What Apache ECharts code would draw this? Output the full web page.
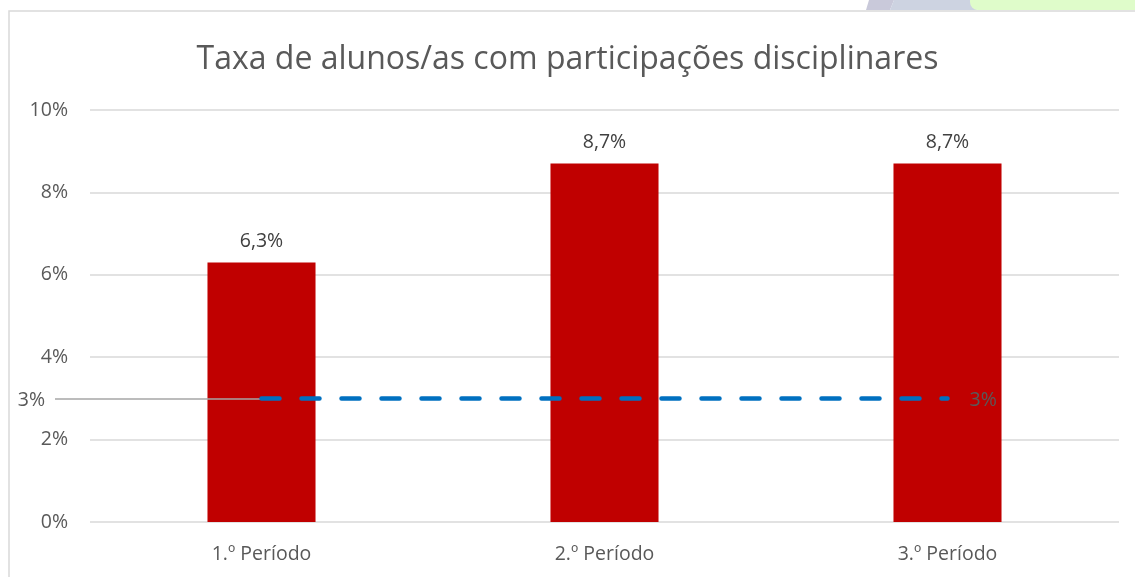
<!DOCTYPE html>
<html><head><meta charset="utf-8">
<script src="https://cdn.jsdelivr.net/npm/echarts@6/dist/echarts.min.js"></script>
<style>html,body{margin:0;padding:0;background:#fff}#c{width:1135px;height:577px}</style>
</head><body><div id="c"></div>
<script>
var titleText = 'Taxa de alunos/as com participações disciplinares';
var categories = ['1.º Período', '2.º Período', '3.º Período'];
var rateValues = [6.3, 8.7, 8.7];
var targetValues = [3, 3, 3];
var yTicks = [0, 2, 4, 6, 8, 10];

var chart = echarts.init(document.getElementById('c'), null, {renderer: 'canvas'});
var FONT = 'Open Sans';
var FS = 19.5;
function pct(v){ return String(v).replace('.', ',') + '%'; }

chart.setOption({
  animation: false,
  backgroundColor: '#fff',
  textStyle: {fontFamily: FONT},
  title: {
    text: titleText, left: 'center', top: 39,
    textStyle: {fontFamily: FONT, fontSize: 32, fontWeight: 'normal', color: '#595959'}
  },
  graphic: [
    {type: 'rect', shape: {x: 9, y: 11, width: 1140, height: 580}, style: {fill: 'none', stroke: '#D9D9D9', lineWidth: 1.5}, z: -10},
    {type: 'polygon', shape: {points: [[869,0],[894,0],[890,10],[866,10]]}, style: {fill: '#C9C9DA'}, z: -10},
    {type: 'polygon', shape: {points: [[894,0],[970,0],[977,10],[890,10]]}, style: {fill: '#CDD3E1'}, z: -10},
    {type: 'rect', shape: {x: 970, y: 0, width: 170, height: 10, r: [0,0,0,8]}, style: {fill: '#DFFCCA'}, z: -10}
  ],
  grid: {left: 90, right: 16, top: 110, bottom: 55, containLabel: false},
  xAxis: {
    type: 'category', data: categories,
    axisLine: {show: false}, axisTick: {show: false},
    axisLabel: {color: '#595959', fontSize: FS, fontFamily: FONT, margin: 22}
  },
  yAxis: {
    type: 'value', min: 0, max: 10, interval: 2,
    axisLine: {show: false}, axisTick: {show: false},
    splitLine: {lineStyle: {color: '#D9D9D9', width: 1.5}},
    axisLabel: {color: '#595959', fontSize: FS, fontFamily: FONT, margin: 22,
      formatter: function(v){ return yTicks.indexOf(v) >= 0 ? v + '%' : ''; }}
  },
  series: [
    {
      type: 'bar', data: rateValues, barWidth: '31.5%',
      itemStyle: {color: '#C00000'},
      label: {show: true, position: 'top', distance: 11, color: '#404040', fontSize: FS, fontFamily: FONT,
        formatter: function(p){ return pct(p.value); }}
    },
    {
      type: 'line', data: targetValues, symbol: 'none', z: 5,
      lineStyle: {color: '#0070C0', width: 4.5, type: [18, 22], cap: 'round'},
      label: {show: false},
      endLabel: {show: true, color: '#595959', fontSize: FS, fontFamily: FONT, distance: 22, offset: [0, 2],
        formatter: function(p){ return p.value + '%'; }},
      markPoint: {
        symbol: 'circle', symbolSize: 1,
        itemStyle: {color: 'rgba(0,0,0,0)'},
        data: [{coord: [0, targetValues[0]], value: targetValues[0]}],
        label: {show: true, color: '#595959', fontSize: FS, fontFamily: FONT, position: 'left', distance: 216, offset: [0, 2],
          formatter: function(p){ return p.value + '%'; }}
      },
      markLine: {
        symbol: 'none', silent: true,
        lineStyle: {color: '#A6A6A6', width: 1.5, type: 'solid'},
        label: {show: false},
        data: [[{coord: [0, targetValues[0]], x: 55}, {coord: [0, targetValues[0]]}]]
      }
    }
  ]
});
</script></body></html>
